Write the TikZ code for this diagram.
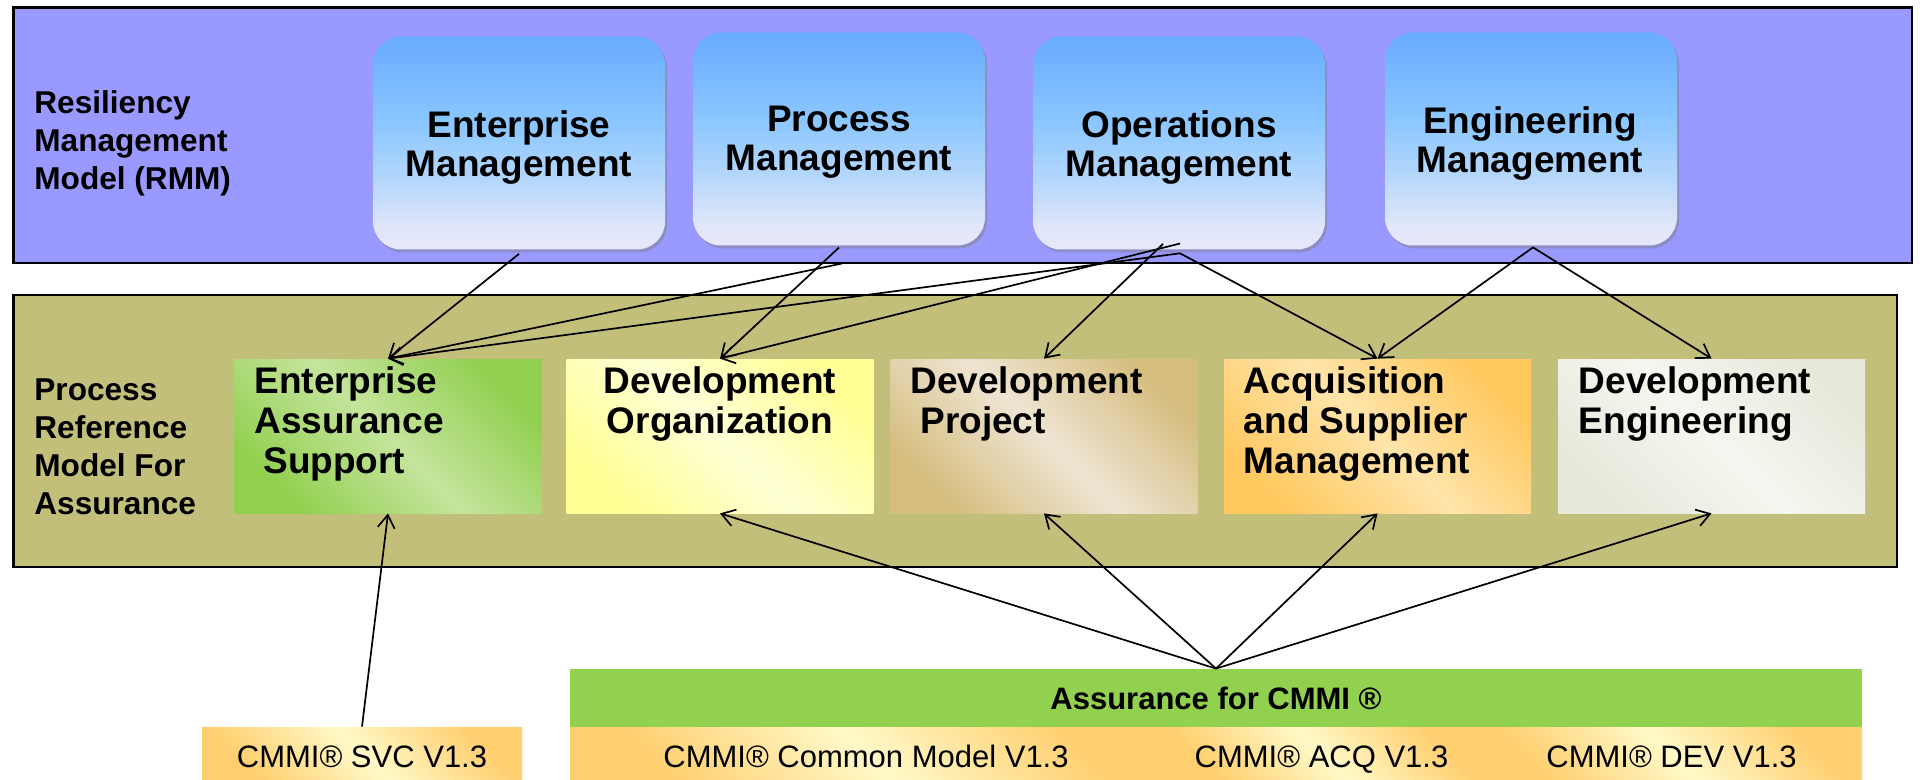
\documentclass[tikz,border=0pt]{standalone}
\usepackage{fontspec}
\setmainfont{Liberation Sans}
\usetikzlibrary{arrows.meta,shadows}
\definecolor{frameblue}{RGB}{153,153,255}
\definecolor{frameolive}{RGB}{194,191,122}
\definecolor{bluea}{RGB}{250,238,252}
\definecolor{blueb}{RGB}{225,230,250}
\definecolor{bluec}{RGB}{178,214,252}
\definecolor{blued}{RGB}{138,198,255}
\definecolor{bluee}{RGB}{115,180,255}
\definecolor{bluef}{RGB}{90,158,255}
\definecolor{gdark}{RGB}{146,208,80}
\definecolor{glight}{RGB}{196,228,156}
\definecolor{ydark}{RGB}{255,255,150}
\definecolor{ylight}{RGB}{255,255,214}
\definecolor{tdark}{RGB}{214,190,128}
\definecolor{tlight}{RGB}{238,228,210}
\definecolor{odark}{RGB}{255,201,96}
\definecolor{olight}{RGB}{255,228,170}
\definecolor{wdark}{RGB}{232,232,220}
\definecolor{wlight}{RGB}{246,246,240}
\definecolor{bdark}{RGB}{255,206,110}
\definecolor{blight}{RGB}{255,249,200}
\definecolor{asrgreen}{RGB}{146,208,80}
\pgfdeclareverticalshading{rmmshade}{100bp}{color(0bp)=(bluea); color(12bp)=(bluea); color(30bp)=(blueb); color(42bp)=(bluec); color(55bp)=(blued); color(68bp)=(bluee); color(85bp)=(bluef); color(100bp)=(bluef)}
\begin{document}
\begin{tikzpicture}[x=0.5pt,y=-0.5pt,
  frame/.style={draw=black,line width=1.2pt},
  rmm/.style={rectangle,rounded corners=14pt,minimum width=146pt,minimum height=106.5pt,inner sep=0pt,
    shade,shading=rmmshade,
    drop shadow={shadow xshift=1pt,shadow yshift=-1.5pt,opacity=0.45}},
  diag/.style n args={2}{top color=#1,bottom color=#1,middle color=#2,shading angle=-45},
  mbox/.style={rectangle,minimum width=153.5pt,minimum height=77pt,inner sep=0pt},
  bbox/.style={rectangle,minimum height=26.5pt,inner sep=0pt,diag={bdark}{blight},
    text height=13.5pt,text depth=0pt,
    font=\fontsize{15.5}{18}\selectfont},
  toptxt/.style={inner sep=0pt,align=center,font=\bfseries\fontsize{18.5}{19.5}\selectfont},
  midtxt/.style={inner sep=0pt,align=left,font=\bfseries\fontsize{18.5}{20}\selectfont},
  lbltxt/.style={inner sep=0pt,align=left,font=\bfseries\fontsize{15.8}{19}\selectfont},
  conn/.style={draw=black,line width=0.85pt,-{Straight Barb[length=6.5pt,width=8.5pt,line width=0.85pt]}}]
\useasboundingbox (0,0) rectangle (1925,780);

% frames
\draw[frame,fill=frameblue] (13.5,7.5) rectangle (1912,263);
\draw[frame,fill=frameolive] (13.5,295) rectangle (1897,567);

\node[lbltxt,anchor=north west] (rmmlbl) at (34,90) {Resiliency\\Management\\Model (RMM)};
\node[lbltxt,anchor=north west] (prmlbl) at (34,378) {Process\\Reference\\Model For\\Assurance};

% RMM boxes
\node[rmm] (em) at (519,143) {};
\node[rmm] (pm) at (839,139) {};
\node[rmm] (om) at (1179,143) {};
\node[rmm] (eng) at (1531,139) {};
\node[toptxt,anchor=north] (emt) at (519,110) {Enterprise\\Management};
\node[toptxt,anchor=north] (pmt) at (839,106) {Process\\Management};
\node[toptxt,anchor=north] (omt) at (1179,110) {Operations\\Management};
\node[toptxt,anchor=north] (engt) at (1530,106) {Engineering\\Management};

% process reference boxes
\node[mbox,diag={gdark}{glight}] (eas) at (388,436) {};
\node[mbox,diag={ydark}{ylight}] (devorg) at (720,436) {};
\node[mbox,diag={tdark}{tlight}] (devproj) at (1044,436) {};
\node[mbox,diag={odark}{olight}] (acq) at (1377.5,436) {};
\node[mbox,diag={wdark}{wlight}] (deveng) at (1711.5,436) {};
\node[midtxt,anchor=north west] (east) at (254,366) {Enterprise\\Assurance\\\hspace*{4.5pt}Support};
\node[midtxt,anchor=north,align=center] (devorgt) at (720,366) {Development\\Organization};
\node[midtxt,anchor=north west] (devprojt) at (910,366) {Development\\\hspace*{5pt}Project};
\node[midtxt,anchor=north west] (acqt) at (1243.5,366) {Acquisition\\and Supplier\\Management};
\node[midtxt,anchor=north west] (devengt) at (1578.5,366) {Development\\Engineering};

% bottom
\node[bbox,minimum width=160pt] (svc) at (362,753.5) {CMMI® SVC V1.3};
\node[rectangle,fill=asrgreen,minimum width=646pt,minimum height=29pt,inner sep=0pt,
  font=\bfseries\fontsize{15.5}{18}\selectfont] (asr) at (1216,698) {Assurance for CMMI ®};
\node[bbox,minimum width=296pt] (cm) at (866,753.5) {CMMI® Common Model V1.3};
\node[bbox,minimum width=159.5pt] (acqb) at (1321.5,753.5) {CMMI® ACQ V1.3};
\node[bbox,minimum width=190.5pt] (devb) at (1671.5,753.5) {CMMI® DEV V1.3};

% connector start points
\coordinate (emo) at ([yshift=-2pt]em.south);
\coordinate (pmo) at ([yshift=-0.8pt]pm.south);
\coordinate (pmx) at ([xshift=1.5pt,yshift=-8.8pt]pm.south);
\coordinate (omu) at ([xshift=0.5pt,yshift=3.2pt]om.south);
\coordinate (omp) at ([xshift=-8pt,yshift=3pt]om.south);
\coordinate (oml) at ([xshift=0.5pt,yshift=-1.7pt]om.south);
\coordinate (engo) at ([xshift=1pt,yshift=-0.75pt]eng.south);

% connectors
\draw[conn] (emo) -- (eas.north);
\draw[conn] (pmx) -- (eas.north);
\draw[conn] (oml) -- (eas.north);
\draw[conn] (pmo) -- (devorg.north);
\draw[conn] (omu) -- (devorg.north);
\draw[conn] (omp) -- (devproj.north);
\draw[conn] (oml) -- (acq.north);
\draw[conn] (engo) -- (acq.north);
\draw[conn] (engo) -- (deveng.north);

\draw[conn] (svc.north) -- (eas.south);
\draw[conn] (asr.north) -- (devorg.south);
\draw[conn] (asr.north) -- (devproj.south);
\draw[conn] (asr.north) -- (acq.south);
\draw[conn] (asr.north) -- (deveng.south);
\end{tikzpicture}
\end{document}
